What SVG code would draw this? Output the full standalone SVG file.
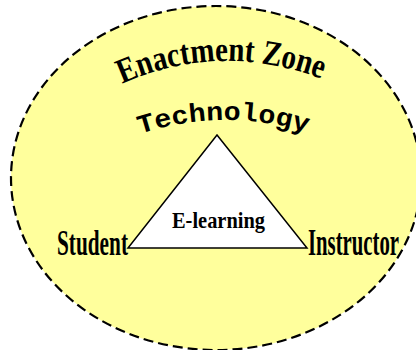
<svg xmlns="http://www.w3.org/2000/svg" width="416" height="350" viewBox="0 0 416 350">
<style>
.zone{fill:#ffff9c;stroke:#000;stroke-width:2.2;stroke-dasharray:10 5}
.tri{fill:#fff;stroke:#000;stroke-width:1.5}
</style>
<defs>
<path id="arcZone" d="M 122,84 Q 220,40 325,80"/>
<path id="arcTech" d="M 140,134 Q 225,106 312,134"/>
</defs>
<g id="enactment-zone">
<ellipse class="zone" cx="216" cy="178" rx="205" ry="172"/>
<text font-family="'Liberation Serif', 'Times New Roman', serif" font-weight="bold" font-size="35" fill="#000"><textPath href="#arcZone" textLength="205" lengthAdjust="spacingAndGlyphs">Enactment Zone</textPath></text>
</g>
<g id="connectors">
<polygon class="tri" points="217,135 128,248 307,248"/>
</g>
<g id="technology">
<text font-family="'Liberation Mono', 'Courier New', monospace" font-weight="bold" font-size="26" fill="#000"><textPath href="#arcTech" textLength="170" lengthAdjust="spacingAndGlyphs">Technology</textPath></text>
</g>
<g id="student">
<text font-family="'Liberation Serif', 'Times New Roman', serif" font-weight="bold" x="57" y="255" font-size="35" textLength="71" lengthAdjust="spacingAndGlyphs">Student</text>
</g>
<g id="instructor">
<text font-family="'Liberation Serif', 'Times New Roman', serif" font-weight="bold" x="308" y="255" font-size="37" textLength="91" lengthAdjust="spacingAndGlyphs">Instructor</text>
</g>
<g id="e-learning">
<text font-family="'Liberation Serif', 'Times New Roman', serif" font-weight="bold" x="172" y="228" font-size="24" textLength="93" lengthAdjust="spacingAndGlyphs">E-learning</text>
</g>
</svg>
